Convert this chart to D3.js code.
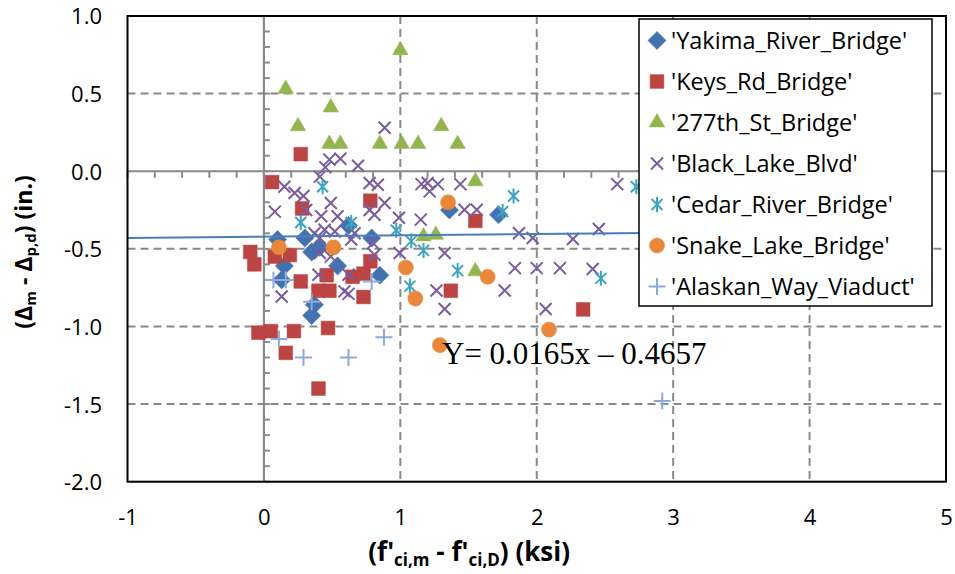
<!DOCTYPE html>
<html><head><meta charset="utf-8">
<script src="https://cdn.jsdelivr.net/npm/d3@7"></script>
<style>body{margin:0;background:#fff;} svg{display:block}</style>
</head><body>
<svg id="c" width="955" height="574"></svg>
<script>
// ---- data ----
const xTicks = [-1, 0, 1, 2, 3, 4, 5];
const xTickLabels = ["-1", "0", "1", "2", "3", "4", "5"];
const yTicks = [-2, -1.5, -1, -0.5, 0, 0.5, 1];
const yTickLabels = ["-2.0", "-1.5", "-1.0", "-0.5", "0.0", "0.5", "1.0"];

const seriesNames = ["'Yakima_River_Bridge'", "'Keys_Rd_Bridge'", "'277th_St_Bridge'", "'Black_Lake_Blvd'", "'Cedar_River_Bridge'", "'Snake_Lake_Bridge'", "'Alaskan_Way_Viaduct'"];

const yakimaX = [0.10, 0.30, 0.35, 0.41, 0.62, 0.79, 0.15, 0.54, 0.85, 0.13, 0.37, 0.35, 1.36, 1.72];
const yakimaY = [-0.44, -0.43, -0.52, -0.49, -0.35, -0.43, -0.61, -0.61, -0.67, -0.70, -0.86, -0.93, -0.25, -0.28];

const keysX = [0.27, 0.06, 0.28, 0.78, -0.10, -0.07, 0.08, 0.19, 0.27, 0.46, 0.78, 0.65, 0.73, 0.40, 0.48, 0.73, 1.55, 1.37, 2.34, -0.04, 0.05, 0.22, 0.47, 0.16, 0.40];
const keysY = [0.11, -0.07, -0.24, -0.19, -0.52, -0.60, -0.55, -0.54, -0.71, -0.67, -0.58, -0.68, -0.66, -0.77, -0.77, -0.81, -0.32, -0.77, -0.89, -1.04, -1.03, -1.03, -1.01, -1.17, -1.40];

const st277X = [0.16, 0.49, 0.25, 0.48, 0.56, 0.85, 1.01, 1.13, 1.30, 1.42, 1.00, 1.55, 1.17, 1.26, 1.55];
const st277Y = [0.53, 0.41, 0.29, 0.175, 0.175, 0.175, 0.175, 0.175, 0.29, 0.175, 0.78, -0.065, -0.42, -0.41, -0.645];

const blackX = [0.885, 0.48, 0.56, 0.69, 0.45, 0.41, 0.15, 0.225, 0.29, 0.775, 0.835, 0.08, 0.49, 0.31, 0.42, 0.54, 0.775, 0.81, 0.885, 0.99, 0.445, 0.52, 0.37, 0.665, 0.41, 0.49, 0.64, 0.81, 0.995, 0.40, 0.62, 1.155, 1.215, 1.275, 1.44, 1.15, 1.47, 1.56, 1.87, 1.97, 1.325, 1.84, 2.00, 2.17, 1.265, 1.765, 0.80, 0.41, 1.325, 0.59, 0.62, 0.13, 2.59, 2.265, 2.455, 2.41, 2.065, 1.20];
const blackY = [0.28, 0.075, 0.08, 0.035, 0.025, -0.035, -0.10, -0.14, -0.16, -0.076, -0.087, -0.26, -0.205, -0.25, -0.29, -0.29, -0.25, -0.28, -0.205, -0.30, -0.377, -0.388, -0.40, -0.40, -0.527, -0.55, -0.44, -0.538, -0.527, -0.667, -0.667, -0.083, -0.13, -0.083, -0.083, -0.312, -0.248, -0.248, -0.40, -0.43, -0.527, -0.624, -0.624, -0.624, -0.768, -0.768, -0.463, -0.43, -0.888, -0.774, -0.79, -0.807, -0.083, -0.437, -0.372, -0.63, -0.888, -0.076];

const cedarX = [0.43, 0.27, 0.64, 0.97, 1.08, 1.17, 1.75, 1.83, 1.42, 1.07, 2.47, 2.73];
const cedarY = [-0.10, -0.33, -0.33, -0.38, -0.45, -0.51, -0.26, -0.16, -0.64, -0.74, -0.69, -0.10];

const snakeX = [0.11, 0.51, 1.35, 1.04, 1.64, 1.11, 1.29, 2.09];
const snakeY = [-0.49, -0.49, -0.20, -0.62, -0.68, -0.82, -1.12, -1.02];

const alaskanX = [0.07, 0.16, 0.35, 0.79, 0.11, 0.29, 0.62, 0.88, 2.92];
const alaskanY = [-0.70, -0.70, -0.84, -0.71, -1.08, -1.20, -1.20, -1.07, -1.48];

const trendX = [-1, 3];
const trendY = [-0.430, -0.396];
const equationText = "Y= 0.0165x \u2013 0.4657";

// ---- setup ----
const svg = d3.select("#c");
const P = {left: 127.5, right: 946, top: 16, bottom: 481.7};
const x = d3.scaleLinear().domain([-1, 5]).range([P.left, P.right]);
const y = d3.scaleLinear().domain([-2, 1]).range([P.bottom, P.top]);
const FONT = "'Open Sans', 'Liberation Sans', sans-serif";
const GRID = "#8a8a8a";

const series = [
  {name: seriesNames[0], xs: yakimaX, ys: yakimaY, type: "diamond", color: "#4472b0"},
  {name: seriesNames[1], xs: keysX, ys: keysY, type: "square", color: "#bb4542"},
  {name: seriesNames[2], xs: st277X, ys: st277Y, type: "triangle", color: "#93b550"},
  {name: seriesNames[3], xs: blackX, ys: blackY, type: "x", color: "#7a5c9e"},
  {name: seriesNames[4], xs: cedarX, ys: cedarY, type: "star", color: "#3ea3be"},
  {name: seriesNames[5], xs: snakeX, ys: snakeY, type: "circle", color: "#e9883a"},
  {name: seriesNames[6], xs: alaskanX, ys: alaskanY, type: "plus", color: "#8eaadb"}
];

// gridlines (dashed)
const gx = xTicks.filter(v => v !== 0 && v !== x.domain()[0] && v !== x.domain()[1]);
const gy = yTicks.filter(v => v !== 0 && v !== y.domain()[0] && v !== y.domain()[1]);
svg.append("g").selectAll("line").data(gy).join("line")
  .attr("x1", P.left).attr("x2", P.right)
  .attr("y1", d => y(d)).attr("y2", d => y(d))
  .attr("stroke", GRID).attr("stroke-width", 2).attr("stroke-dasharray", "8,5");
svg.append("g").selectAll("line").data(gx).join("line")
  .attr("y1", P.top).attr("y2", P.bottom)
  .attr("x1", d => x(d)).attr("x2", d => x(d))
  .attr("stroke", GRID).attr("stroke-width", 2).attr("stroke-dasharray", "8,5");

// zero axes
svg.append("line").attr("x1", P.left).attr("x2", P.right).attr("y1", y(0)).attr("y2", y(0))
  .attr("stroke", GRID).attr("stroke-width", 2.2);
svg.append("line").attr("x1", x(0)).attr("x2", x(0)).attr("y1", P.top).attr("y2", P.bottom)
  .attr("stroke", GRID).attr("stroke-width", 2.2);
// minor ticks
const yMinor = d3.range(-20, 11).map(i => i / 10);
svg.append("g").selectAll("line").data(yMinor).join("line")
  .attr("x1", x(0)).attr("x2", x(0) + 6)
  .attr("y1", d => y(d)).attr("y2", d => y(d))
  .attr("stroke", GRID).attr("stroke-width", 2);
const xMinor = d3.range(-5, 26).map(i => i / 5);
svg.append("g").selectAll("line").data(xMinor).join("line")
  .attr("x1", d => x(d)).attr("x2", d => x(d))
  .attr("y1", y(0)).attr("y2", y(0) + 6.5)
  .attr("stroke", GRID).attr("stroke-width", 2);

// markers
function markerPath(type) {
  switch (type) {
    case "diamond": return d3.symbol(d3.symbolSquare, 165)();
    case "square": return d3.symbol(d3.symbolSquare, 190)();
    case "triangle": return d3.symbol(d3.symbolTriangle, 105)();
    case "circle": return d3.symbol(d3.symbolCircle, 180)();
    case "x": return "M-6,-6L6,6M-6,6L6,-6";
    case "star": return "M-5.5,-5.5L5.5,5.5M-5.5,5.5L5.5,-5.5M0,-7.5L0,7.5";
    case "plus": return "M-8.5,0L8.5,0M0,-8.5L0,8.5";
  }
}
function styleMarker(sel, s) {
  const filled = ["diamond", "square", "triangle", "circle"].includes(s.type);
  sel.attr("d", markerPath(s.type))
    .attr("fill", filled ? s.color : "none")
    .attr("stroke", s.color)
    .attr("stroke-width", filled ? 0.5 : 2);
}
series.forEach(s => {
  const pts = s.xs.map((v, i) => [v, s.ys[i]]);
  svg.append("g").selectAll("path").data(pts).join("path")
    .attr("transform", d => `translate(${x(d[0])},${y(d[1])})` + (s.type === "diamond" ? " rotate(45)" : ""))
    .call(styleMarker, s);
});

// trendline
svg.append("path")
  .datum(trendX.map((v, i) => [v, trendY[i]]))
  .attr("d", d3.line().x(d => x(d[0])).y(d => y(d[1])))
  .attr("stroke", "#4a7ebb").attr("stroke-width", 2).attr("fill", "none");

// plot border
svg.append("rect").attr("x", P.left).attr("y", P.top)
  .attr("width", P.right - P.left).attr("height", P.bottom - P.top)
  .attr("fill", "none").attr("stroke", "#000").attr("stroke-width", 2);

// axes labels via d3 axes
const xAxis = svg.append("g").attr("transform", `translate(0,${P.bottom})`)
  .call(d3.axisBottom(x).tickValues(xTicks).tickFormat((d, i) => xTickLabels[i]).tickSize(0));
xAxis.select(".domain").remove();
xAxis.selectAll("text").attr("y", 43.3).attr("dy", null)
  .attr("font-family", FONT).attr("font-size", 22).attr("fill", "#000");

const yAxis = svg.append("g").attr("transform", `translate(${P.left},0)`)
  .call(d3.axisLeft(y).tickValues(yTicks).tickFormat((d, i) => yTickLabels[i]).tickSize(0).tickPadding(25.5));
yAxis.select(".domain").remove();
yAxis.selectAll("text").attr("dy", "0.36em")
  .attr("font-family", FONT).attr("font-size", 22).attr("fill", "#000");

// axis titles
const xt = svg.append("text").attr("x", 570).attr("y", 561)
  .attr("text-anchor", "end").attr("font-family", FONT).attr("font-size", 26)
  .attr("font-weight", "bold").attr("fill", "#000");
xt.append("tspan").text("(f'");
xt.append("tspan").attr("font-size", 17).attr("dy", 5).text("ci,m");
xt.append("tspan").attr("dy", -5).text(" - f'");
xt.append("tspan").attr("font-size", 17).attr("dy", 5).text("ci,D");
xt.append("tspan").attr("dy", -5).text(") (ksi)");

const yt = svg.append("text").attr("transform", "translate(32,252) rotate(-90)")
  .attr("text-anchor", "middle").attr("font-family", FONT).attr("font-size", 23)
  .attr("font-weight", "bold").attr("fill", "#000");
yt.append("tspan").text("(\u0394");
yt.append("tspan").attr("font-size", 15).attr("dy", 4).text("m");
yt.append("tspan").attr("dy", -4).text(" - \u0394");
yt.append("tspan").attr("font-size", 15).attr("dy", 4).text("p,d");
yt.append("tspan").attr("dy", -4).text(") (in.)");

// equation
svg.append("text").attr("x", 442).attr("y", 364)
  .attr("font-family", "'Liberation Serif', 'Times New Roman', serif")
  .attr("font-size", 31).attr("fill", "#000").text(equationText);

// legend
const L = {x: 639, y: 19, w: 293, h: 287};
const lg = svg.append("g");
lg.append("rect").attr("x", L.x).attr("y", L.y).attr("width", L.w).attr("height", L.h)
  .attr("fill", "#fff").attr("stroke", "#000").attr("stroke-width", 1.5);
series.forEach((s, i) => {
  const cy = L.y + 21.5 + i * 41;
  lg.append("path")
    .attr("transform", `translate(${L.x + 18},${cy})` + (s.type === "diamond" ? " rotate(45)" : ""))
    .call(styleMarker, s);
  lg.append("text").attr("x", L.x + 32).attr("y", cy).attr("dy", "0.36em")
    .attr("font-family", FONT).attr("font-size", 23.5).attr("fill", "#000").text(s.name);
});
</script>
</body></html>
